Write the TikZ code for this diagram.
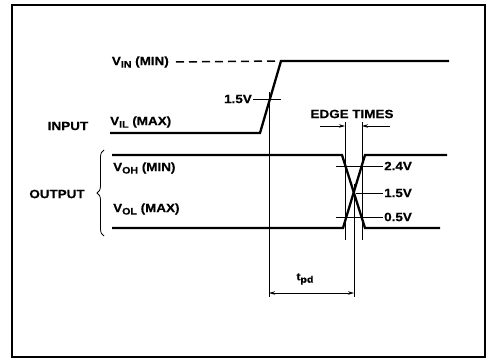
\documentclass[tikz,border=0pt]{standalone}
\usepackage{fontspec}
\setmainfont{Liberation Sans}[FakeStretch=1.12, BoldFeatures={FakeBold=0.6}]
\usetikzlibrary{arrows.meta, positioning, decorations.pathreplacing}
\newcommand{\lowsub}[1]{\raisebox{-2.5pt}{\fontsize{9.5}{9.5}\selectfont #1}}

\begin{document}
\begin{tikzpicture}[
x=1pt, y=-1pt,
sig/.style={line width=2.3pt},
guide/.style={line width=0.8pt},
lbl/.style={font=\fontsize{12}{12}\selectfont\bfseries, inner sep=1pt},
dim/.style={guide, -{Stealth[length=6pt,width=3.5pt]}},
dimboth/.style={guide, {Stealth[length=6pt,width=3.5pt]}-{Stealth[length=6pt,width=3.5pt]}}
]
\useasboundingbox (0,0) rectangle (490,358);
\draw[line width=1.3pt] (12,5) rectangle (485,357);

\coordinate (inlo) at (110,133);
\coordinate (inrise) at (260,133);
\coordinate (intop) at (281,61);
\coordinate (inhi) at (449,61);
\coordinate (ohl) at (112,155);
\coordinate (ohfall) at (342,155);
\coordinate (ohend) at (365,228);
\coordinate (ohr) at (440,228);
\coordinate (oll) at (112,228);
\coordinate (olrise) at (343,228);
\coordinate (olend) at (365,155);
\coordinate (olr) at (447,155);

\draw[sig] (inlo) -- (inrise) -- (intop) -- (inhi);
\draw[sig] (ohl) -- (ohfall) -- (ohend) -- (ohr);
\draw[sig] (oll) -- (olrise) -- (olend) -- (olr);

\node[lbl, anchor=east] (vin) at (170,62) {V\lowsub{IN} (MIN)};
\draw[line width=1.5pt, dash pattern=on 8pt off 5pt] (vin.east) ++(6,0) -- (intop);
\node[lbl, anchor=west] (vil) at (109,122) {V\lowsub{IL} (MAX)};
\node[lbl] (input) at (68,126) {INPUT};
\node[lbl, anchor=west] (voh) at (112,168) {V\lowsub{OH} (MIN)};
\node[lbl, anchor=west] (vol) at (112,209) {V\lowsub{OL} (MAX)};
\node[lbl] (output) at (57,194) {OUTPUT};
\draw[guide, decorate, decoration={brace, amplitude=7pt}] (104,236) -- (104,150);

\node[lbl, anchor=east] (vth) at (253,99) {1.5V};
\coordinate (vthend) at (281,99);
\draw[guide] (vth.east) -- (vthend);
\coordinate (intop1) at (269,92);
\coordinate (inbot1) at (269,297);
\draw[guide] (intop1) -- (inbot1);

\node[lbl] (edge) at (352,114) {EDGE TIMES};
\coordinate (etl) at (345,122);
\coordinate (etlb) at (345,240);
\coordinate (etr) at (362,122);
\coordinate (etrb) at (362,240);
\draw[guide] (etl) -- (etlb);
\draw[guide] (etr) -- (etrb);
\coordinate (etla) at (320,126);
\coordinate (etra) at (390,126);
\draw[dim] (etla) -- (etla -| etl);
\draw[dim] (etra) -- (etra -| etr);

\node[lbl, anchor=west] (vhi) at (383,166) {2.4V};
\node[lbl, anchor=west] (vmid) at (383,193) {1.5V};
\node[lbl, anchor=west] (vlo) at (383,217) {0.5V};
\draw[guide] (vhi.west) -- ++(-47,0);
\draw[guide] (vmid.west) -- ++(-27,0);
\draw[guide] (vlo.west) -- ++(-47,0);
\coordinate (xtop) at (354,184);
\coordinate (xbot) at (354,297);
\draw[guide] (xtop) -- (xbot);

\draw[dimboth] (269,293) -- (354,293);
\node[lbl] (tpd) at (305,279) {{\fontsize{10.5}{10.5}\selectfont t}\lowsub{pd}};
\end{tikzpicture}
\end{document}
